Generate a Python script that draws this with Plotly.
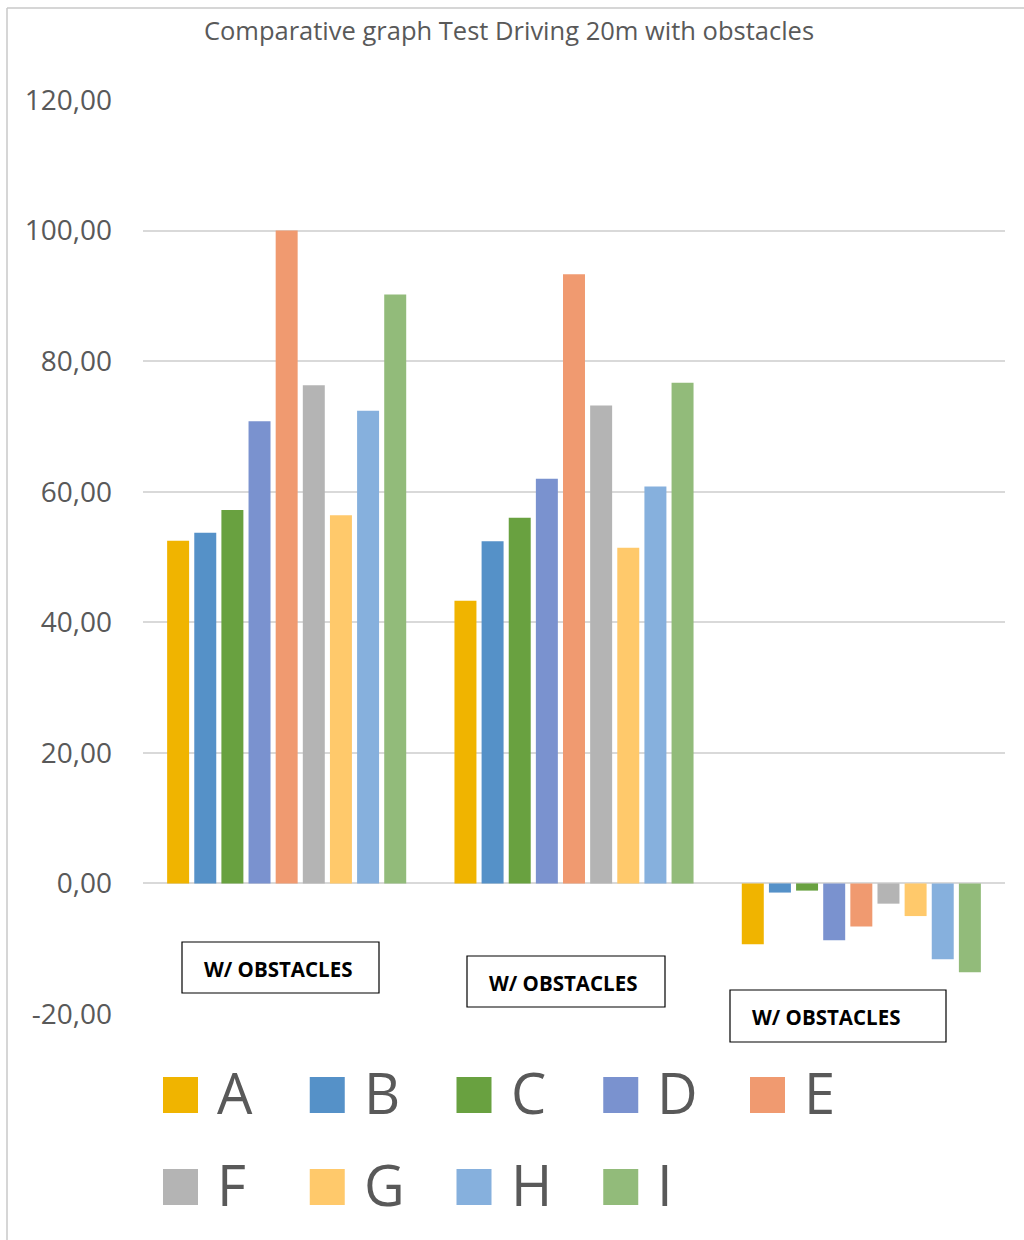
import plotly.graph_objects as go

categories = ["Group 1", "Group 2", "Group 3"]
series_names = ["A", "B", "C", "D", "E", "F", "G", "H", "I"]
values_A = [52.5, 43.3, -9.3]
values_B = [53.7, 52.4, -1.4]
values_C = [57.2, 56.0, -1.1]
values_D = [70.8, 62.0, -8.7]
values_E = [100.0, 93.3, -6.6]
values_F = [76.3, 73.2, -3.1]
values_G = [56.4, 51.4, -5.0]
values_H = [72.4, 60.8, -11.6]
values_I = [90.2, 76.7, -13.6]
all_values = [values_A, values_B, values_C, values_D, values_E,
              values_F, values_G, values_H, values_I]
colors = ["#F0B400", "#5591C8", "#69A140", "#7A92CF", "#F09A70",
          "#B4B4B4", "#FFC96B", "#86B0DD", "#92BB7A"]
tick_values = [-20, 0, 20, 40, 60, 80, 100, 120]
tick_labels = ["-20,00", "0,00", "20,00", "40,00", "60,00", "80,00",
               "100,00", "120,00"]
box_labels = ["W/ OBSTACLES", "W/ OBSTACLES", "W/ OBSTACLES"]
title_text = "Comparative graph Test Driving 20m with obstacles"

W, H = 1024, 1240
ML, MR, MT, MB = 143, 19, 100, 226
PW = W - ML - MR
PH = H - MT - MB


def px(x):
    return (x - ML) / PW


def py(y):
    return (H - MB - y) / PH


fig = go.Figure()
for name, vals, col in zip(series_names, all_values, colors):
    fig.add_trace(go.Bar(x=categories, y=vals, name=name,
                         marker=dict(color=col, line=dict(width=0)),
                         showlegend=False))

FONT = "Open Sans"
GREY = "#595959"

fig.update_layout(
    width=W, height=H,
    margin=dict(l=ML, r=MR, t=MT, b=MB),
    paper_bgcolor="white", plot_bgcolor="white",
    barmode="group", bargap=0.15, bargroupgap=0.19,
    title=dict(text=title_text, x=509 / W, xanchor="center",
               y=1 - 31 / H, yanchor="middle", yref="container",
               font=dict(family=FONT, size=25.5, color=GREY)),
    xaxis=dict(showticklabels=False, showgrid=False, zeroline=False,
               showline=False, ticks=""),
    yaxis=dict(range=[-20, 120], tickmode="array", tickvals=tick_values,
               ticktext=tick_labels,
               showgrid=True, gridcolor="#D9D9D9", gridwidth=1.5,
               zeroline=True, zerolinecolor="#D9D9D9", zerolinewidth=2,
               showline=False, ticks="", ticklabelstandoff=30,
               tickfont=dict(family=FONT, size=28, color=GREY)),
)

# Text boxes below the groups (left, top, right, bottom in pixels)
boxes = [(182, 942, 379, 993), (467, 956, 665, 1007), (730, 990, 946, 1042)]
for lab, (bx0, by0, bx1, by1) in zip(box_labels, boxes):
    fig.add_shape(type="rect", xref="paper", yref="paper",
                  x0=px(bx0), x1=px(bx1), y0=py(by1), y1=py(by0),
                  fillcolor="white", line=dict(color="black", width=1.2))
    fig.add_annotation(x=px(bx0 + 20), y=py((by0 + by1) / 2 + 1),
                       xref="paper", yref="paper",
                       text="<b>" + lab + "</b>", showarrow=False,
                       xanchor="left", yanchor="middle",
                       font=dict(family=FONT, size=20.5, color="black"))

# Custom legend (large squares and letters)
for i, (name, col) in enumerate(zip(series_names, colors)):
    row, colidx = divmod(i, 5)
    x0 = 163 + colidx * 146.75
    cy = 1095 + row * 92
    fig.add_shape(type="rect", xref="paper", yref="paper",
                  x0=px(x0), x1=px(x0 + 35), y0=py(cy + 18), y1=py(cy - 18),
                  fillcolor=col, line=dict(width=0))
    fig.add_annotation(x=px(x0 + 52), y=py(cy - 3), xref="paper", yref="paper",
                       text=name, showarrow=False, xanchor="left",
                       yanchor="middle",
                       font=dict(family=FONT, size=56, color=GREY))

# Outer chart border (top and left edges)
fig.add_shape(type="line", xref="paper", yref="paper",
              x0=px(7), x1=px(1030), y0=py(8), y1=py(8),
              line=dict(color="#C8C8C8", width=1.5))
fig.add_shape(type="line", xref="paper", yref="paper",
              x0=px(7), x1=px(7), y0=py(8), y1=py(1260),
              line=dict(color="#C8C8C8", width=1.5))

fig.write_html("out.html")
